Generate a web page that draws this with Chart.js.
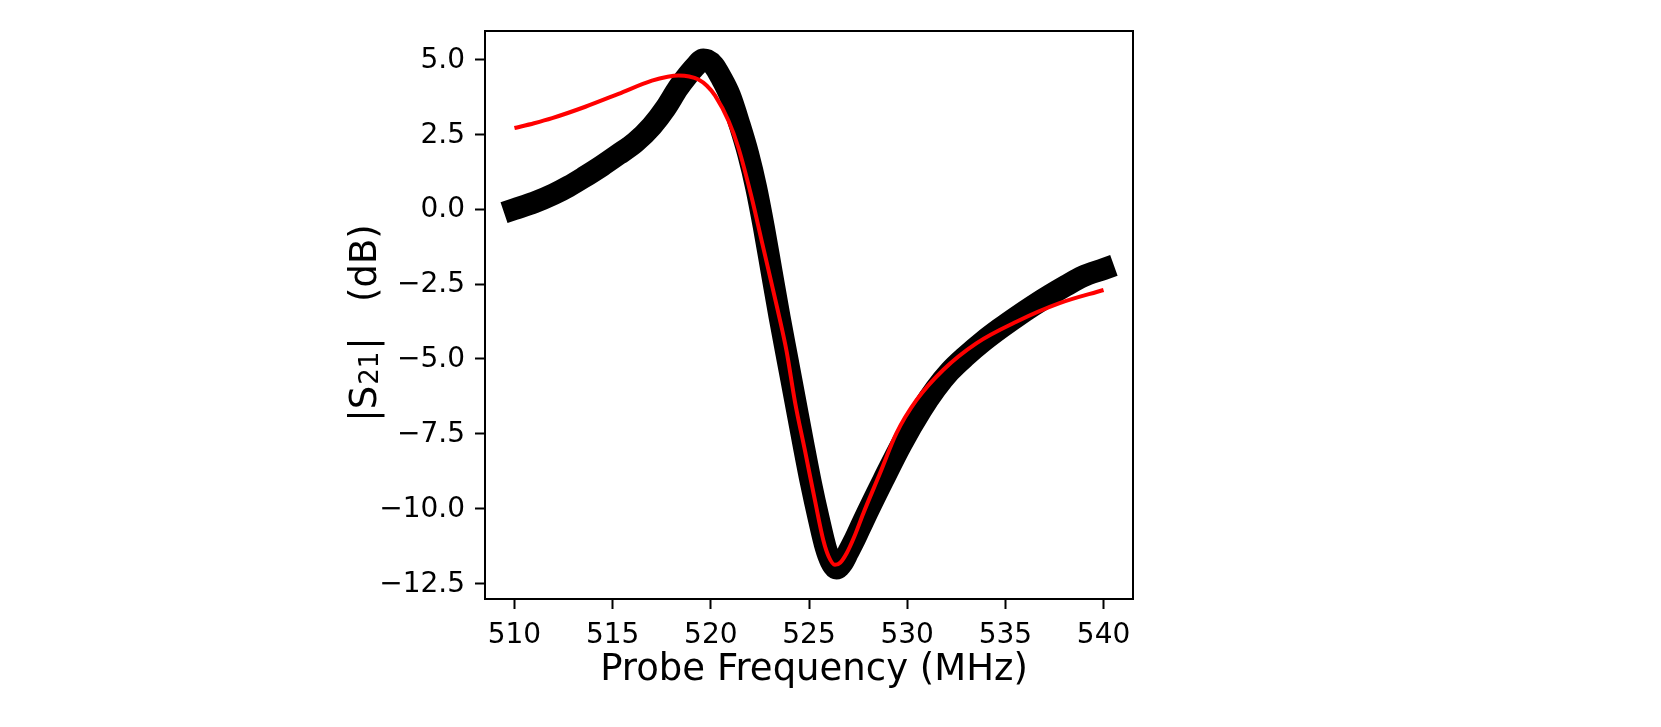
<!DOCTYPE html>
<html>
<head>
<meta charset="utf-8">
<title>|S21| vs probe frequency</title>
<script src="https://cdn.jsdelivr.net/npm/chart.js@4.4.1/dist/chart.umd.min.js"></script>
<style>
    html, body { margin: 0; padding: 0; background: #ffffff; }
    #wrap { width: 1661px; height: 727px; }
</style>
</head>
<body>
<div id="wrap"><canvas id="s21Chart" width="1661" height="727"></canvas></div>
<script>
const freqMHz = [510.0, 511.0, 512.0, 512.76, 513.5, 514.46, 515.3, 516.15, 517.0, 517.7,
    518.34, 518.8, 519.19, 519.62, 519.8, 520.15, 520.51, 520.97, 521.46, 521.9,
    522.3, 522.7, 523.1, 523.5, 523.9, 524.3, 524.7, 525.1, 525.5, 525.85,
    526.1, 526.4, 526.7, 527.0, 527.35, 527.76, 528.78, 529.71, 530.73, 531.45,
    532.17, 533.0, 533.86, 534.7, 535.56, 536.4, 537.25, 538.1, 538.94, 540.0];
const s21dB = [0.0, 0.22, 0.5, 0.76, 1.05, 1.45, 1.83, 2.23, 2.78, 3.38,
    4.05, 4.45, 4.75, 5.0, 4.98, 4.8, 4.41, 3.8, 2.83, 1.85,
    0.75, -0.6, -2.1, -3.6, -5.0, -6.4, -7.8, -9.15, -10.35, -11.3,
    -11.75, -12.0, -11.82, -11.45, -11.0, -10.42, -9.05, -7.85, -6.7, -6.0,
    -5.42, -4.9, -4.42, -4.0, -3.6, -3.23, -2.88, -2.55, -2.25, -2.0];

// fit (red line)
const fitFreq = [510.0, 511.0, 511.92, 513.61, 515.3, 517.0, 517.8, 518.35, 518.9, 519.37,
    519.8, 520.22, 520.9, 521.4, 522.08, 522.59, 523.4, 523.86, 524.29, 524.79,
    525.3, 525.73, 526.0, 526.32, 526.6, 526.91, 527.3, 527.76, 528.61, 529.45,
    530.47, 531.83, 533.52, 535.56, 537.76, 540.0];
const fitS21 = [2.71, 2.87, 3.04, 3.42, 3.85, 4.29, 4.42, 4.46, 4.43, 4.33,
    4.12, 3.79, 2.95, 2.06, 0.39, -1.06, -3.35, -4.75, -6.45, -8.05,
    -9.72, -11.06, -11.6, -11.88, -11.8, -11.5, -10.95, -10.17, -8.83, -7.49,
    -6.38, -5.37, -4.48, -3.76, -3.14, -2.70];

// axes
const xTicks = [510, 515, 520, 525, 530, 535, 540];
const yTicks = [-12.5, -10.0, -7.5, -5.0, -2.5, 0.0, 2.5, 5.0];
const xRange = [508.5, 541.5];
const yRange = [-13.02, 5.95];

const FONT = "'DejaVu Sans', sans-serif";

function toPoints(xs, ys) {
    var pts = [];
    for (let i = 0; i < xs.length; i++) {
        pts.push({x: xs[i], y: ys[i]});
    }
    return pts;
}

// matplotlib uses a real minus sign
function yLabel(v) {
    return v.toFixed(1).replace('-', '\u2212');
}

// top and right spines
const frame = {
    id: 'frame',
    afterDraw(chart) {
        var a = chart.chartArea;
        var ctx = chart.ctx;
        ctx.save();
        ctx.strokeStyle = '#000';
        ctx.lineWidth = 2;
        ctx.beginPath();
        ctx.moveTo(a.left, a.top);
        ctx.lineTo(a.right, a.top);
        ctx.lineTo(a.right, a.bottom);
        ctx.stroke();
        ctx.restore();
    }
};

// axis titles; the y one needs a real subscript: |S_21|   (dB)
const axisTitles = {
    id: 'axisTitles',
    afterDraw(chart) {
        var a = chart.chartArea;
        var ctx = chart.ctx;
        ctx.save();
        ctx.fillStyle = '#000';

        // x title
        ctx.font = '37px ' + FONT;
        ctx.textAlign = 'center';
        ctx.textBaseline = 'alphabetic';
        ctx.fillText('Probe Frequency (MHz)', (a.left + a.right) / 2 + 5, a.bottom + 81);

        // y title
        var parts = [
            {t: '|S', size: 37, dy: 0, gap: 1},
            {t: '21', size: 26, dy: 2, gap: 2},
            {t: '|\u00a0\u00a0\u00a0(dB)', size: 37, dy: 0, gap: 0}
        ];
        var total = 0;
        for (const p of parts) {
            ctx.font = p.size + 'px ' + FONT;
            p.w = ctx.measureText(p.t).width;
            total += p.w + p.gap;
        }
        ctx.translate(376, (a.top + a.bottom) / 2 + 8);
        ctx.rotate(-Math.PI / 2);
        ctx.textAlign = 'left';
        var x = -total / 2;
        for (const p of parts) {
            ctx.font = p.size + 'px ' + FONT;
            ctx.fillText(p.t, x, p.dy);
            x += p.w + p.gap;
        }
        ctx.restore();
    }
};

function axisCommon() {
    return {
        type: 'linear',
        grid: { drawOnChartArea: false, drawTicks: true, tickLength: 10, tickWidth: 2, tickColor: '#000' },
        border: { display: true, color: '#000', width: 2 },
        title: { display: false }
    };
}

function chart() {
    var ctx = document.getElementById('s21Chart').getContext('2d');
    var xAxis = axisCommon();
    xAxis.min = xRange[0];
    xAxis.max = xRange[1];
    xAxis.afterBuildTicks = function(s) { s.ticks = xTicks.map(v => ({value: v})); };
    xAxis.afterFit = function(s) { s.height = 128; };
    xAxis.ticks = { color: '#000', font: {family: FONT, size: 28}, padding: 10, maxRotation: 0, autoSkip: false,
        callback: v => String(v) };

    var yAxis = axisCommon();
    yAxis.min = yRange[0];
    yAxis.max = yRange[1];
    yAxis.afterBuildTicks = function(s) { s.ticks = yTicks.map(v => ({value: v})); };
    yAxis.afterFit = function(s) { s.width = 185; };
    yAxis.ticks = { color: '#000', font: {family: FONT, size: 28}, padding: 10, autoSkip: false,
        labelOffset: 1, callback: v => yLabel(v) };

    var myChart = new Chart(ctx, {
        type: 'line',
        data: {
            datasets: [{
                label: 'fit',
                data: toPoints(fitFreq, fitS21),
                borderColor: '#ff0000',
                borderWidth: 4,
                pointRadius: 0,
                cubicInterpolationMode: 'monotone',
                order: 1
            }, {
                label: 'data',
                data: toPoints(freqMHz, s21dB),
                borderColor: '#000000',
                borderWidth: 22,
                borderCapStyle: 'square',
                borderJoinStyle: 'round',
                pointRadius: 0,
                cubicInterpolationMode: 'monotone',
                order: 2
            }]
        },
        options: {
            responsive: false,
            animation: false,
            layout: { padding: {left: 300, right: 528, top: 31, bottom: 0}, autoPadding: false },
            plugins: { legend: {display: false}, tooltip: {enabled: false} },
            scales: { x: xAxis, y: yAxis }
        },
        plugins: [frame, axisTitles]
    });
    return myChart;
}

chart();
</script>
</body>
</html>
